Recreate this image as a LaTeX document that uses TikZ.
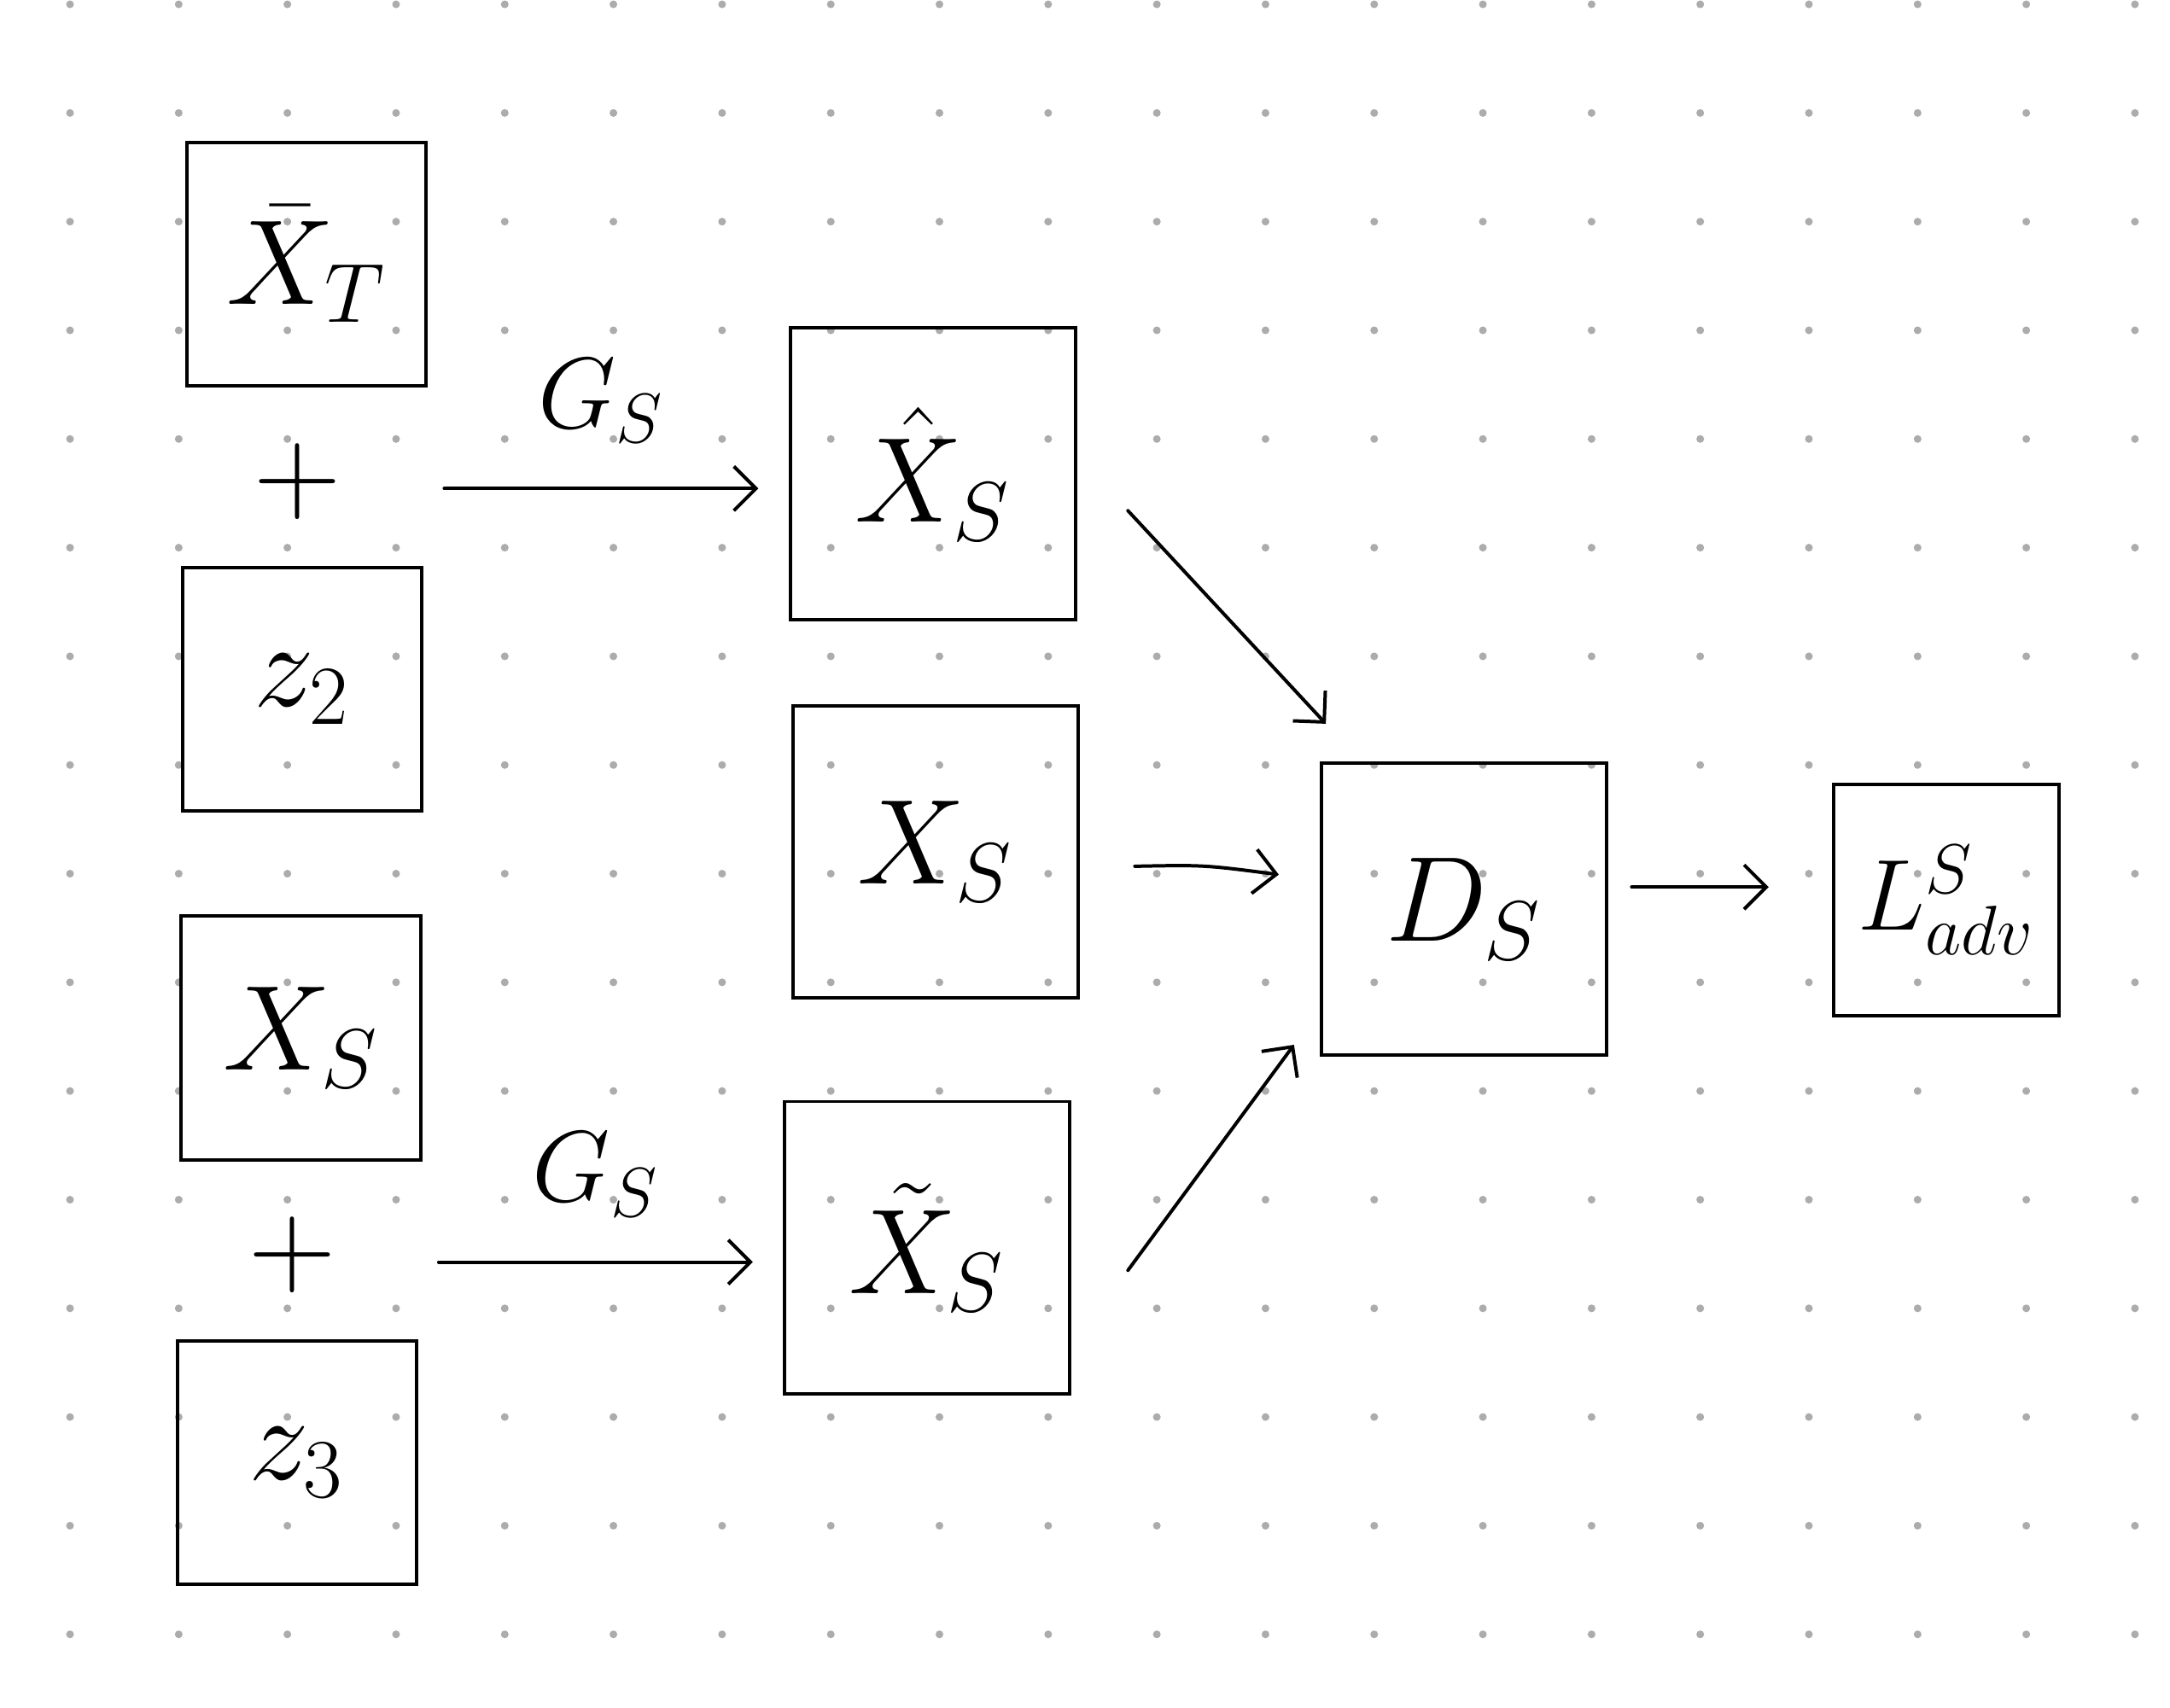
\documentclass[tikz,border=0pt]{standalone}
\usetikzlibrary{arrows.meta}

\begin{document}
\begin{tikzpicture}[
  line width=0.7pt,
  every node/.style={font=\fontsize{23}{28}\selectfont},
  box/.style={draw, minimum width=1.73cm, minimum height=1.76cm},
  bigbox/.style={draw, minimum width=2.06cm, minimum height=2.11cm},
  lossbox/.style={draw, inner sep=1pt, minimum width=1.63cm, minimum height=1.67cm,
    font=\fontsize{21}{26}\selectfont},
  arr/.style={-{Straight Barb[length=1.6mm, width=3.2mm]}, line cap=round}]
\useasboundingbox (0,0) rectangle (15.68,-12.34);
% dot grid
\foreach \i in {0,...,19}
  \foreach \j in {0,...,15}
    \fill[gray!65] (0.506+0.7853*\i, -0.031-0.7853*\j) circle (0.028);
% inputs
\node[box] (xbar) at (2.215,-1.91) {$\bar{X}_T$};
\node (plusa) at (2.15,-3.48) {$+$};
\node[box] (ztwo) at (2.185,-4.98) {$z_2$};
\node[box] (xsin) at (2.175,-7.50) {$X_S$};
\node (plusb) at (2.11,-9.07) {$+$};
\node[box] (zthree) at (2.145,-10.57) {$z_3$};
% generated / real
\node[bigbox] (xhat) at (6.74,-3.425) {$\hat{X}_S$};
\node[bigbox] (xs) at (6.76,-6.155) {$X_S$};
\node[bigbox] (xtil) at (6.70,-9.015) {$\tilde{X}_S$};
% discriminator and loss
\node[bigbox] (ds) at (10.58,-6.57) {$D_S$};
\node[lossbox] (ladv) at (14.065,-6.505) {$L^S_{adv}$};
% connectors
\coordinate (ga) at (3.21,-3.53);
\coordinate (gb) at (3.17,-9.12);
\draw[arr] (ga) -- node[above=2mm, font=\fontsize{21}{26}\selectfont] {$G_S$} ++(2.27,0);
\draw[arr] (gb) -- node[above=2mm, font=\fontsize{21}{26}\selectfont] {$G_S$} ++(2.27,0);
\coordinate (ha) at (8.15,-3.69);
\coordinate (sa) at (8.20,-6.26);
\coordinate (ta) at (8.15,-9.18);
\coordinate (oa) at (11.79,-6.41);
\draw[arr] (ha) -- (9.58,-5.23);
\draw[arr] (sa) .. controls (8.7,-6.25) .. (9.24,-6.32);
\draw[arr] (ta) -- (9.35,-7.55);
\draw[arr] (oa) -- (12.78,-6.41);
\end{tikzpicture}
\end{document}
